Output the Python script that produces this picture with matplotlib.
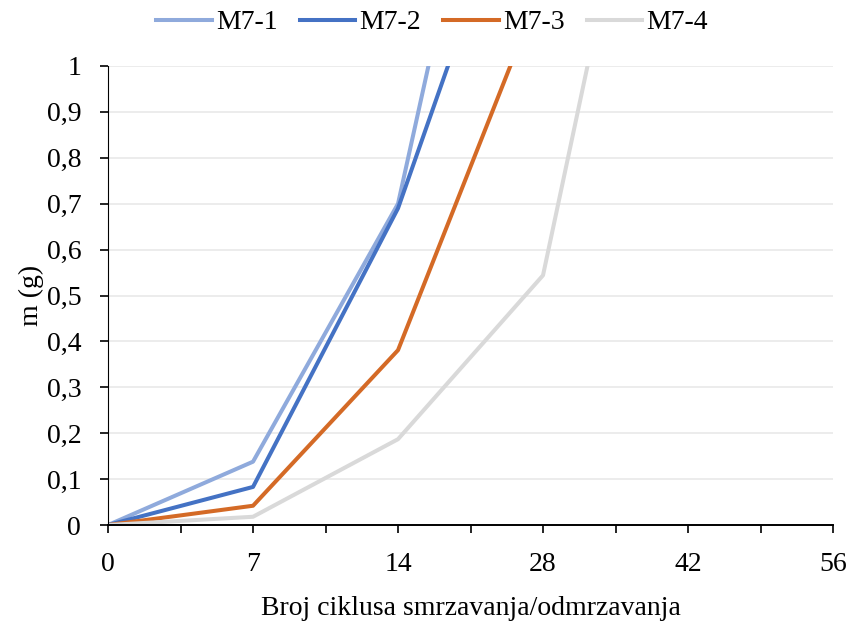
import numpy as np
import matplotlib.pyplot as plt

# Categories on the x axis (Excel-style category axis)
cycles = ['0', '7', '14', '28', '42', '56']

# Mass loss (g); nan = off-scale / not readable in the chart
m7_1 = [0.0, 0.138, 0.700, 2.13, np.nan, np.nan]
m7_2 = [0.0, 0.083, 0.690, 1.59, np.nan, np.nan]
m7_3 = [0.0, 0.042, 0.381, 1.18, np.nan, np.nan]
m7_4 = [0.0, 0.018, 0.187, 0.544, 2.03, np.nan]

labels = ['M7-1', 'M7-2', 'M7-3', 'M7-4']
colors = ['#8FAADC', '#4472C4', '#D46A26', '#D9D9D9']

plt.rcParams['font.family'] = ['Liberation Serif', 'DejaVu Serif']

fig = plt.figure(figsize=(8.52, 6.26), dpi=100)
ax = fig.add_axes([0.1268, 0.1613, 0.8509, 0.7333])

x = np.arange(len(cycles))
for series, lab, col in zip([m7_1, m7_2, m7_3, m7_4], labels, colors):
    ax.plot(x, series, color=col, lw=2.9, label=lab)

ax.set_xlim(0, len(cycles) - 1)
ax.set_ylim(0, 1)
ax.set_xticks(x)
ax.set_xticklabels(cycles)
ax.set_xticks(x[:-1] + 0.5, minor=True)
ax.set_yticks(np.arange(0, 1.01, 0.1))
ax.set_yticklabels(['0'] + [f'{v:.1f}'.replace('.', ',') for v in np.arange(0.1, 0.95, 0.1)] + ['1'])

ax.grid(axis='y', color='#EBEBEB', lw=1.3)
ax.set_axisbelow(True)
for s in ['top', 'right']:
    ax.spines[s].set_visible(False)
ax.spines['left'].set_color('black')
ax.spines['bottom'].set_color('black')
ax.spines['bottom'].set_linewidth(1.4)
ax.tick_params(axis='both', which='both', length=5.8, width=1.2, labelsize=20, direction='out')
ax.tick_params(axis='x', which='both', pad=13.5)
ax.tick_params(axis='y', pad=13.5)

ax.set_xlabel('Broj ciklusa smrzavanja/odmrzavanja', fontsize=20, labelpad=14)
ax.set_ylabel('m (g)', fontsize=20, labelpad=2)

fig.legend(*ax.get_legend_handles_labels(), loc='center', bbox_to_anchor=(0.507, 0.964),
           ncol=4, frameon=False, fontsize=20, handlelength=2.0, columnspacing=0.8,
           handletextpad=0.15)

fig.savefig('out.png', dpi=100)
